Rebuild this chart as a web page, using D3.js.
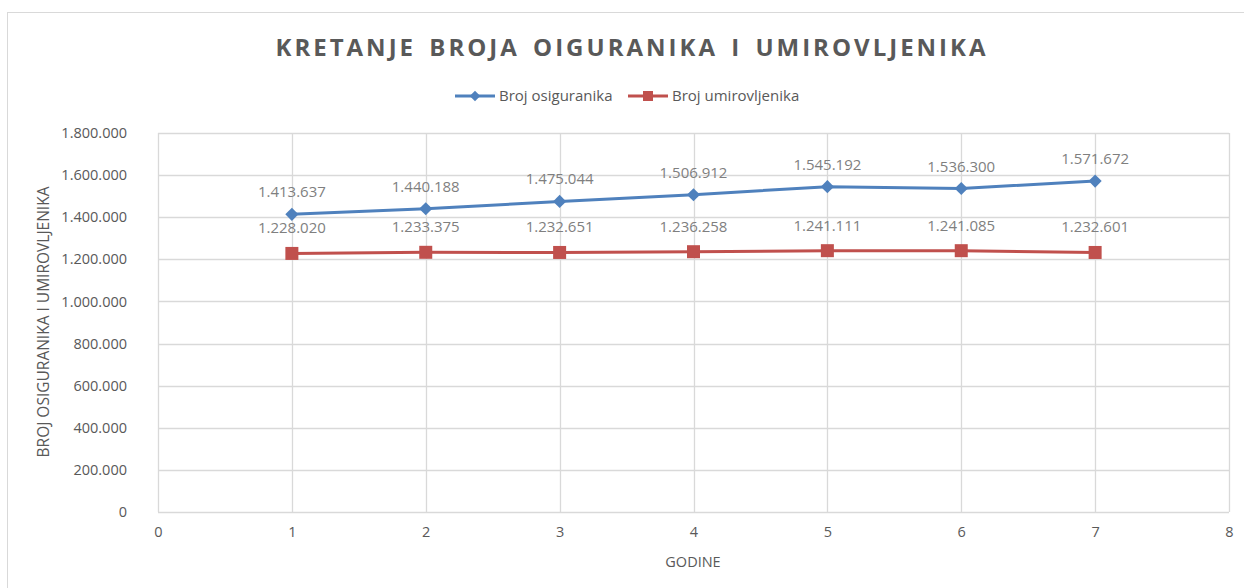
<!DOCTYPE html>
<html>
<head>
<meta charset="utf-8">
<script src="https://cdn.jsdelivr.net/npm/d3@7/dist/d3.min.js"></script>
<style>
  body { margin: 0; background: #fff; }
  text { font-family: "Open Sans", "Noto Sans", sans-serif; }
</style>
</head>
<body>
<svg id="chart" width="1244" height="588"></svg>
<script>
// Data
const years = [1, 2, 3, 4, 5, 6, 7]
const osiguranici = [1413637, 1440188, 1475044, 1506912, 1545192, 1536300, 1571672]
const umirovljenici = [1228020, 1233375, 1232651, 1236258, 1241111, 1241085, 1232601]
const xTicks = [0, 1, 2, 3, 4, 5, 6, 7, 8]
const yTicks = [0, 200000, 400000, 600000, 800000, 1000000, 1200000, 1400000, 1600000, 1800000]

const series = [
  { name: "Broj osiguranika", values: osiguranici, color: "#4f81bd", marker: "diamond" },
  { name: "Broj umirovljenika", values: umirovljenici, color: "#c0504d", marker: "square" }
]

const svg = d3.select("#chart")

// outer chart border
svg.append("rect")
  .attr("x", 7.5).attr("y", 12.5)
  .attr("width", 1244).attr("height", 600)
  .attr("fill", "none").attr("stroke", "#d9d9d9")

const x = d3.scaleLinear().domain([0, 8]).range([158, 1229])
const y = d3.scaleLinear().domain([0, 1800000]).range([512, 133])

const fmt = v => d3.format(",")(v).replace(/,/g, ".")

// gridlines
svg.append("g")
  .selectAll("line")
  .data(yTicks)
  .join("line")
  .attr("x1", x(0)).attr("x2", x(8))
  .attr("y1", d => Math.round(y(d)) + 0.5).attr("y2", d => Math.round(y(d)) + 0.5)
  .attr("stroke", "#d9d9d9").attr("stroke-width", 1.3)

svg.append("g")
  .selectAll("line")
  .data(xTicks)
  .join("line")
  .attr("x1", d => Math.round(x(d)) + 0.5).attr("x2", d => Math.round(x(d)) + 0.5)
  .attr("y1", y(1800000)).attr("y2", y(0))
  .attr("stroke", "#d9d9d9").attr("stroke-width", 1.3)

// axes
const yAxis = svg.append("g")
  .attr("transform", `translate(${x(0) - 28},0)`)
  .call(d3.axisLeft(y).tickValues(yTicks).tickFormat(fmt).tickSize(0))
yAxis.select(".domain").remove()
yAxis.selectAll("text").attr("fill", "#595959").attr("font-size", 14.5).attr("dx", 0)

const xAxis = svg.append("g")
  .attr("transform", `translate(0,${y(0) + 12})`)
  .call(d3.axisBottom(x).tickValues(xTicks).tickFormat(d3.format("d")).tickSize(0))
xAxis.select(".domain").remove()
xAxis.selectAll("text").attr("fill", "#595959").attr("font-size", 14.5)

// title
svg.append("text")
  .attr("x", 632).attr("y", 56)
  .attr("text-anchor", "middle")
  .attr("font-size", 24).attr("font-weight", "bold")
  .attr("letter-spacing", 3)
  .attr("fill", "#595959")
  .attr("word-spacing", 4)
  .text("KRETANJE  BROJA OIGURANIKA  I UMIROVLJENIKA")

// axis titles
svg.append("text")
  .attr("transform", "translate(49,322) rotate(-90)")
  .attr("text-anchor", "middle")
  .attr("font-size", 15.5).attr("fill", "#595959")
  .text("BROJ OSIGURANIKA I UMIROVLJENIKA")

svg.append("text")
  .attr("x", 693).attr("y", 567)
  .attr("text-anchor", "middle")
  .attr("font-size", 14.5).attr("fill", "#595959")
  .text("GODINE")

// legend
const legendX = [455, 628]
const legend = svg.append("g")
series.forEach((s, i) => {
  const g = legend.append("g").attr("transform", `translate(${legendX[i]},96)`)
  g.append("line").attr("x1", 0).attr("x2", 40)
    .attr("stroke", s.color).attr("stroke-width", 3)
  if (s.marker === "diamond") {
    g.append("path").attr("d", d3.symbol(d3.symbolDiamond2, 70)())
      .attr("transform", "translate(20,0)").attr("fill", s.color)
  } else {
    g.append("rect").attr("x", 15).attr("y", -5).attr("width", 10).attr("height", 10)
      .attr("fill", s.color)
  }
  g.append("text").attr("x", 44).attr("y", 5)
    .attr("font-size", 15).attr("fill", "#595959")
    .text(s.name)
})

// lines, markers, labels
const line = d3.line().x((d, i) => x(years[i])).y(d => y(d))

series.forEach(s => {
  svg.append("path")
    .datum(s.values)
    .attr("d", line)
    .attr("fill", "none")
    .attr("stroke", s.color)
    .attr("stroke-width", 3)
    .attr("stroke-linejoin", "round")

  const pts = svg.append("g")
  if (s.marker === "diamond") {
    pts.selectAll("path")
      .data(s.values)
      .join("path")
      .attr("d", d3.symbol(d3.symbolDiamond2, 110)())
      .attr("transform", (d, i) => `translate(${x(years[i])},${y(d)})`)
      .attr("fill", s.color)
  } else {
    pts.selectAll("rect")
      .data(s.values)
      .join("rect")
      .attr("x", (d, i) => x(years[i]) - 6.5)
      .attr("y", d => y(d) - 6.5)
      .attr("width", 13).attr("height", 13)
      .attr("fill", s.color)
  }

  svg.append("g")
    .selectAll("text")
    .data(s.values)
    .join("text")
    .attr("x", (d, i) => x(years[i]))
    .attr("y", d => y(d) - (s.marker === "diamond" ? 17 : 20))
    .attr("text-anchor", "middle")
    .attr("font-size", 15)
    .attr("fill", "#7f7f7f")
    .text(fmt)
})
</script>
</body>
</html>
